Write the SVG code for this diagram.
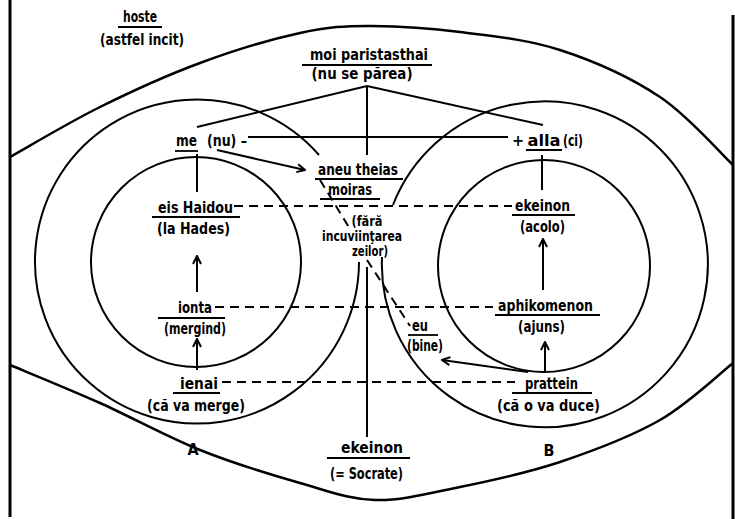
<svg xmlns="http://www.w3.org/2000/svg" width="735" height="519" viewBox="0 0 735 519">
<style>
text{font-family:"Liberation Sans Narrow","DejaVu Sans Condensed","Liberation Sans",sans-serif;font-weight:bold;font-size:16px;fill:#000;text-anchor:middle}
.sm{font-size:14.5px}
.s{fill:none;stroke:#000;stroke-width:2}
.b{fill:none;stroke:#000;stroke-width:2.5}
.f{fill:none;stroke:#000;stroke-width:3}
.u{fill:none;stroke:#000;stroke-width:1.8}
.d{fill:none;stroke:#000;stroke-width:2;stroke-dasharray:9 6}
.a{fill:none;stroke:#000;stroke-width:2;marker-end:url(#ah)}
</style>
<defs>
<marker id="ah" viewBox="0 0 10 10" refX="9" refY="5" markerWidth="10" markerHeight="10" markerUnits="userSpaceOnUse" orient="auto">
<path d="M1,1 L9,5 L1,9" fill="none" stroke="#000" stroke-width="2"/>
</marker>
</defs>
<rect width="735" height="519" fill="#fff"/>
<g id="frame">
<line class="f" x1="10" y1="0" x2="10" y2="517"/>
<line class="f" x1="733" y1="15" x2="733" y2="519"/>
<path class="b" d="M10,157 C25,148.7 68.3,122.7 100,107 C131.7,91.3 166.7,75.3 200,63 C233.3,50.7 271.3,39.2 300,33 C328.7,26.8 345.3,25.8 372,26 C398.7,26.2 428.7,28 460,32 C491.3,36 526.7,39.2 560,50 C593.3,60.8 631.2,77.8 660,97 C688.8,116.2 720.8,153.7 733,165"/>
<path class="b" d="M10,365 C25,371.3 68.3,388.8 100,403 C131.7,417.2 166.7,436.7 200,450 C233.3,463.3 270.8,474.7 300,483 C329.2,491.3 348.3,499.3 375,500 C401.7,500.7 429.2,493.3 460,487 C490.8,480.7 526.7,473.2 560,462 C593.3,450.8 631.2,436.5 660,420 C688.8,403.5 720.8,372.5 733,363"/>
</g>
<g id="circles">
<path class="s" d="M319,155 A162,162 0 1 0 359,262"/>
<circle class="s" cx="196" cy="262" r="105"/>
<path class="s" d="M393,205 A163,163 0 1 1 382,257"/>
<circle class="s" cx="544" cy="266" r="106"/>
</g>
<g id="connectors">
<line class="s" x1="367" y1="86" x2="197" y2="127"/>
<line class="s" x1="367" y1="86" x2="543" y2="125"/>
<line class="s" x1="367" y1="86" x2="367" y2="155"/>
<line class="s" x1="248" y1="137" x2="508" y2="137"/>
<line class="s" x1="197" y1="154" x2="197" y2="192"/>
<line class="s" x1="542" y1="155" x2="542" y2="190"/>
<line class="a" x1="217" y1="150" x2="305" y2="170"/>
<line class="a" x1="197" y1="292" x2="197" y2="256"/>
<line class="a" x1="197" y1="370" x2="197" y2="339"/>
<line class="a" x1="543" y1="290" x2="543" y2="239"/>
<line class="a" x1="545" y1="372" x2="545" y2="342"/>
<line class="a" x1="528" y1="372" x2="442" y2="360"/>
<line class="s" x1="367" y1="267" x2="367" y2="437"/>
<line class="d" x1="234" y1="206" x2="512" y2="206"/>
<line class="d" x1="215" y1="307" x2="493" y2="307"/>
<line class="d" x1="222" y1="382" x2="515" y2="382"/>
<line class="d" x1="320" y1="180" x2="350" y2="229"/>
<line class="d" x1="367" y1="260" x2="410" y2="326"/>
</g>
<g id="hoste">
<text x="140" y="22" textLength="34" lengthAdjust="spacingAndGlyphs">hoste</text>
<line class="u" x1="118" y1="27" x2="162" y2="27"/>
<text x="142" y="45" textLength="84" lengthAdjust="spacingAndGlyphs">(astfel incit)</text>
</g>
<g id="moi-paristasthai">
<text x="369" y="60" textLength="118" lengthAdjust="spacingAndGlyphs">moi  paristasthai</text>
<line class="u" x1="302" y1="65" x2="432" y2="65"/>
<text x="362" y="79" textLength="101" lengthAdjust="spacingAndGlyphs">(nu  se  părea)</text>
</g>
<g id="me">
<text x="186.5" y="146" textLength="21" lengthAdjust="spacingAndGlyphs">me</text>
<line class="u" x1="175" y1="151" x2="198" y2="151"/>
<text x="227" y="146" textLength="40" lengthAdjust="spacingAndGlyphs">(nu) –</text>
</g>
<g id="alla">
<text x="518" y="146">+</text>
<text x="544" y="146" textLength="33" lengthAdjust="spacingAndGlyphs">alla</text>
<line class="u" x1="526" y1="150" x2="562" y2="150"/>
<text x="573" y="146" textLength="20" lengthAdjust="spacingAndGlyphs">(ci)</text>
</g>
<g id="aneu-theias">
<text x="358" y="175" textLength="80" lengthAdjust="spacingAndGlyphs">aneu theias</text>
<line class="u" x1="315" y1="179" x2="403" y2="179"/>
<text x="350" y="195" textLength="44" lengthAdjust="spacingAndGlyphs">moiras</text>
<line class="u" x1="320" y1="199" x2="380" y2="199"/>
<text class="sm" x="367" y="226" textLength="31" lengthAdjust="spacingAndGlyphs">(fără</text>
<text class="sm" x="362" y="241" textLength="80" lengthAdjust="spacingAndGlyphs">incuviinţarea</text>
<text class="sm" x="370" y="256" textLength="36" lengthAdjust="spacingAndGlyphs">zeilor)</text>
</g>
<g id="eis-haidou">
<text x="195.5" y="213" textLength="75" lengthAdjust="spacingAndGlyphs">eis Haidou</text>
<line class="u" x1="152" y1="217" x2="240" y2="217"/>
<text x="193.5" y="234" textLength="73" lengthAdjust="spacingAndGlyphs">(la Hades)</text>
</g>
<g id="ionta">
<text x="195" y="313" textLength="34" lengthAdjust="spacingAndGlyphs">ionta</text>
<line class="u" x1="158" y1="318" x2="225" y2="318"/>
<text x="195" y="334" textLength="62" lengthAdjust="spacingAndGlyphs">(mergind)</text>
</g>
<g id="ienai">
<text x="199" y="389" textLength="38" lengthAdjust="spacingAndGlyphs">ienai</text>
<line class="u" x1="173" y1="393" x2="220" y2="393"/>
<text x="196" y="411" textLength="98" lengthAdjust="spacingAndGlyphs">(că  va  merge)</text>
</g>
<g id="label-A"><text x="193" y="455">A</text></g>
<g id="ekeinon-socrate">
<text x="372" y="453" textLength="62" lengthAdjust="spacingAndGlyphs">ekeinon</text>
<line class="u" x1="327" y1="458" x2="410" y2="458"/>
<text x="366.5" y="479" textLength="73" lengthAdjust="spacingAndGlyphs">(= Socrate)</text>
</g>
<g id="ekeinon-acolo">
<text x="542.5" y="211" textLength="55" lengthAdjust="spacingAndGlyphs">ekeinon</text>
<line class="u" x1="512" y1="215" x2="575" y2="215"/>
<text x="542.5" y="232" textLength="45" lengthAdjust="spacingAndGlyphs">(acolo)</text>
</g>
<g id="aphikomenon">
<text x="545.5" y="311" textLength="95" lengthAdjust="spacingAndGlyphs">aphikomenon</text>
<line class="u" x1="495" y1="315" x2="600" y2="315"/>
<text x="541.5" y="332" textLength="47" lengthAdjust="spacingAndGlyphs">(ajuns)</text>
</g>
<g id="eu">
<text x="420" y="331" textLength="16" lengthAdjust="spacingAndGlyphs">eu</text>
<line class="u" x1="408" y1="335" x2="438" y2="335"/>
<text x="425" y="351" textLength="36" lengthAdjust="spacingAndGlyphs">(bine)</text>
</g>
<g id="prattein">
<text x="551.5" y="389" textLength="53" lengthAdjust="spacingAndGlyphs">prattein</text>
<line class="u" x1="512" y1="393" x2="592" y2="393"/>
<text x="548.5" y="411" textLength="103" lengthAdjust="spacingAndGlyphs">(că  o  va  duce)</text>
</g>
<g id="label-B"><text x="549" y="456">B</text></g>
</svg>
